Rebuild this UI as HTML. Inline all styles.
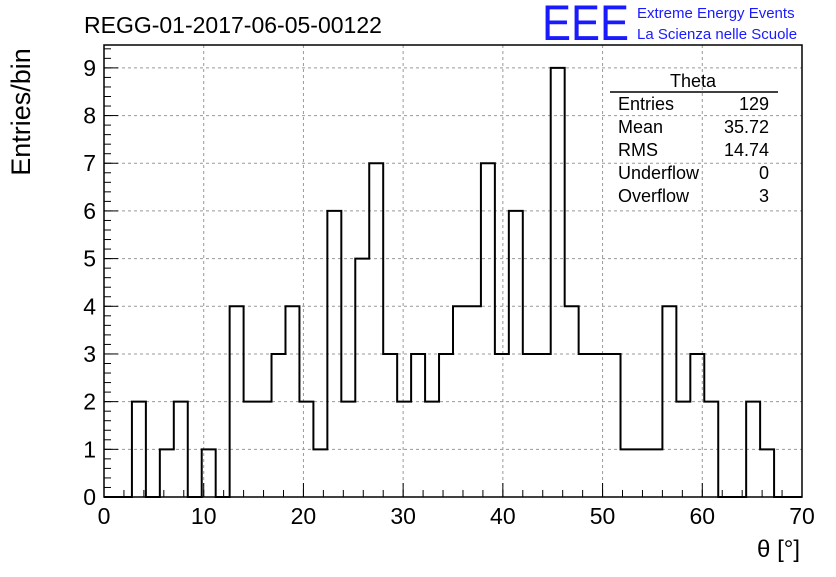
<!DOCTYPE html>
<html><head><meta charset="utf-8"><style>
body{margin:0;background:#fff;width:836px;height:572px;overflow:hidden}
svg text{font-family:"Liberation Sans",Arial,sans-serif}
</style></head><body>
<svg id="chart" width="836" height="572">
<rect width="836" height="572" fill="#fff"/>
<g id="grid"></g>
<g id="axes"></g>
<path id="hist" fill="none" stroke="#000" stroke-width="2"/>
<text x="84" y="33" font-size="23">REGG-01-2017-06-05-00122</text>
<text x="542" y="40" font-size="50" fill="#1a1aff" textLength="87" lengthAdjust="spacingAndGlyphs">EEE</text>
<text x="637" y="18" font-size="15" fill="#1a1aff">Extreme Energy Events</text>
<text x="637" y="39" font-size="15" fill="#1a1aff">La Scienza nelle Scuole</text>
<text x="30" y="112" font-size="27" transform="rotate(-90 30 112)" text-anchor="middle">Entries/bin</text>
<text x="800" y="557" font-size="24" text-anchor="end">θ [°]</text>
<g font-size="18">
<text x="693" y="87" text-anchor="middle">Theta</text>
<line x1="610" y1="92" x2="778" y2="92" stroke="#000" stroke-width="1.5"/>
<text x="618" y="110">Entries</text><text x="769" y="110" text-anchor="end">129</text>
<text x="618" y="133">Mean</text><text x="769" y="133" text-anchor="end">35.72</text>
<text x="618" y="156">RMS</text><text x="769" y="156" text-anchor="end">14.74</text>
<text x="618" y="179">Underflow</text><text x="769" y="179" text-anchor="end">0</text>
<text x="618" y="202">Overflow</text><text x="769" y="202" text-anchor="end">3</text>
</g>
</svg>
<script>
const binCounts=[0,0,2,0,1,2,0,1,0,4,2,2,3,4,2,1,6,2,5,7,3,2,3,2,3,4,4,7,3,6,3,3,9,4,3,3,3,1,1,1,4,2,3,2,0,0,2,1,0,0];
const xTicks=[0,10,20,30,40,50,60,70];
const yTicks=[0,1,2,3,4,5,6,7,8,9];
const xMin=0,xMax=70,yMin=0,yMax=9.48;
const L=104,R=802,T=45,B=497;
const X=v=>L+(v-xMin)/(xMax-xMin)*(R-L);
const Y=v=>B-(v-yMin)/(yMax-yMin)*(B-T);
const NS="http://www.w3.org/2000/svg";
const grid=document.getElementById('grid'),axes=document.getElementById('axes');
function mk(tag,attrs,parent){const e=document.createElementNS(NS,tag);for(const k in attrs)e.setAttribute(k,attrs[k]);parent.appendChild(e);return e;}
xTicks.forEach(t=>{
 if(t>xMin&&t<xMax){const g=mk('line',{x1:X(t),x2:X(t),y1:T,y2:B,stroke:'#999','stroke-dasharray':'3,3'},grid);
 
 }
 mk('line',{x1:X(t),x2:X(t),y1:B,y2:B-14,stroke:'#000'},axes);
 const tx=mk('text',{x:X(t),y:B+27,'font-size':23,'text-anchor':'middle'},axes);tx.textContent=t;
 
 
});
for(let v=xMin;v<=xMax;v+=2){mk('line',{x1:X(v),x2:X(v),y1:B,y2:B-7,stroke:'#000'},axes);}
yTicks.forEach(t=>{
 if(t>yMin){const g=mk('line',{x1:L,x2:R,y1:Y(t),y2:Y(t),stroke:'#999','stroke-dasharray':'3,3'},grid);
 
 }
 mk('line',{x1:L,x2:L+14,y1:Y(t),y2:Y(t),stroke:'#000'},axes);
 const tx=mk('text',{x:L-8,y:Y(t)+8,'font-size':23,'text-anchor':'end'},axes);tx.textContent=t;
 
 
});
for(let v=0;v<=9.4;v+=0.2){mk('line',{x1:L,x2:L+7,y1:Y(v),y2:Y(v),stroke:'#000'},axes);}
mk('rect',{x:L,y:T,width:R-L,height:B-T,fill:'none',stroke:'#000','stroke-width':1.5},axes);
const w=(xMax-xMin)/binCounts.length;
let d='M'+X(0)+','+Y(0);
binCounts.forEach((c,i)=>{d+=' L'+X(i*w)+','+Y(c)+' L'+X((i+1)*w)+','+Y(c);});
d+=' L'+X(xMax)+','+Y(0);
document.getElementById('hist').setAttribute('d',d);
</script>
</body></html>
